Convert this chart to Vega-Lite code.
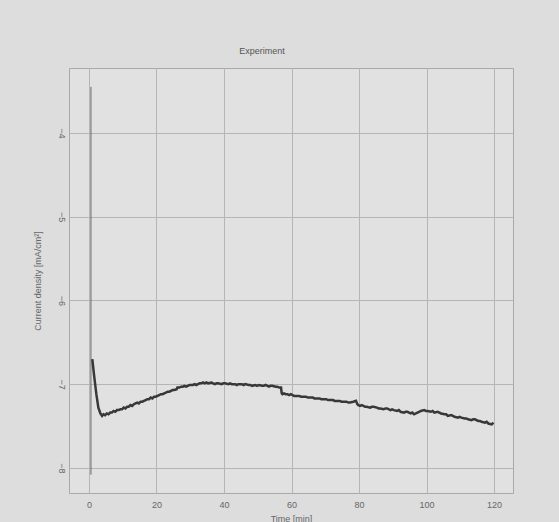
{
  "$schema": "https://vega.github.io/schema/vega-lite/v6.json",
  "autosize": {"type": "none"},
  "width": 444,
  "height": 425,
  "padding": {"left": 69, "top": 68, "right": 46, "bottom": 29},
  "background": "#dddddd",
  "config": {
    "font": "Liberation Sans",
    "view": {"fill": "#e1e1e1", "stroke": "#a9a9a9", "strokeWidth": 1},
    "axis": {"gridColor": "#b5b5b5", "gridOpacity": 1, "gridWidth": 1, "domain": false, "ticks": false, "labelColor": "#666666", "labelFontSize": 9, "titleColor": "#666666", "titleFontSize": 9, "titleFontWeight": "normal"}
  },
  "title": {"text": "Experiment", "anchor": "middle", "dx": -29, "offset": 12, "fontSize": 9, "fontWeight": "normal", "color": "#555555"},
  "datasets": {
    "spike": [
      {"t": 0.6, "j": -3.45},
      {"t": 0.6, "j": -8.08}
    ],
    "main": [
      {"t": 1.0, "j": -6.70}, {"t": 1.6, "j": -6.92}, {"t": 2.2, "j": -7.12}, {"t": 2.8, "j": -7.28},
      {"t": 3.4, "j": -7.35}, {"t": 3.9, "j": -7.38}, {"t": 4.3, "j": -7.36}, {"t": 4.8, "j": -7.37}, {"t": 5.3, "j": -7.35},
      {"t": 5.8, "j": -7.36}, {"t": 6.3, "j": -7.34}, {"t": 6.8, "j": -7.34}, {"t": 7.3, "j": -7.32}, {"t": 7.8, "j": -7.33}, {"t": 8.3, "j": -7.31}, {"t": 8.8, "j": -7.31}, {"t": 9.3, "j": -7.30},
      {"t": 9.8, "j": -7.30}, {"t": 10.3, "j": -7.28}, {"t": 10.8, "j": -7.29}, {"t": 11.3, "j": -7.27}, {"t": 11.8, "j": -7.27}, {"t": 12.3, "j": -7.25}, {"t": 12.8, "j": -7.26}, {"t": 13.3, "j": -7.24},
      {"t": 13.8, "j": -7.23}, {"t": 14.3, "j": -7.22}, {"t": 14.8, "j": -7.23}, {"t": 15.3, "j": -7.21}, {"t": 15.8, "j": -7.21}, {"t": 16.3, "j": -7.20}, {"t": 16.8, "j": -7.19}, {"t": 17.3, "j": -7.18},
      {"t": 17.8, "j": -7.18}, {"t": 18.3, "j": -7.16}, {"t": 18.8, "j": -7.17}, {"t": 19.3, "j": -7.15}, {"t": 19.8, "j": -7.15}, {"t": 20.3, "j": -7.14}, {"t": 20.8, "j": -7.13}, {"t": 21.3, "j": -7.12},
      {"t": 21.8, "j": -7.12}, {"t": 22.3, "j": -7.11}, {"t": 22.8, "j": -7.10}, {"t": 23.3, "j": -7.09}, {"t": 23.8, "j": -7.09}, {"t": 24.3, "j": -7.08}, {"t": 24.8, "j": -7.07}, {"t": 25.3, "j": -7.07},
      {"t": 26.0, "j": -7.06}, {"t": 26.2, "j": -7.04}, {"t": 26.8, "j": -7.04}, {"t": 27.3, "j": -7.03}, {"t": 27.8, "j": -7.03}, {"t": 28.3, "j": -7.02}, {"t": 28.8, "j": -7.03},
      {"t": 29.3, "j": -7.02}, {"t": 29.8, "j": -7.01}, {"t": 30.3, "j": -7.01}, {"t": 30.8, "j": -7.01}, {"t": 31.3, "j": -7.00}, {"t": 31.8, "j": -7.01}, {"t": 32.3, "j": -7.00},
      {"t": 32.8, "j": -6.99}, {"t": 33.3, "j": -6.99}, {"t": 33.8, "j": -6.98}, {"t": 34.3, "j": -6.99}, {"t": 34.8, "j": -6.98}, {"t": 35.3, "j": -6.99}, {"t": 36.3, "j": -6.98},
      {"t": 36.8, "j": -6.99}, {"t": 37.3, "j": -7.00}, {"t": 37.8, "j": -6.99}, {"t": 38.3, "j": -6.99}, {"t": 39.3, "j": -7.00}, {"t": 39.8, "j": -6.99}, {"t": 40.3, "j": -6.99},
      {"t": 41.3, "j": -7.00}, {"t": 41.8, "j": -6.99}, {"t": 42.3, "j": -7.00}, {"t": 43.3, "j": -7.00}, {"t": 43.8, "j": -7.01}, {"t": 44.3, "j": -7.00},
      {"t": 45.3, "j": -7.00}, {"t": 45.8, "j": -7.01}, {"t": 46.3, "j": -7.00}, {"t": 47.3, "j": -7.01}, {"t": 47.8, "j": -7.01}, {"t": 48.3, "j": -7.02},
      {"t": 49.3, "j": -7.01}, {"t": 49.8, "j": -7.02}, {"t": 50.3, "j": -7.01}, {"t": 51.3, "j": -7.02}, {"t": 51.8, "j": -7.02}, {"t": 52.3, "j": -7.01},
      {"t": 53.3, "j": -7.03}, {"t": 53.8, "j": -7.02}, {"t": 54.3, "j": -7.02}, {"t": 55.3, "j": -7.03}, {"t": 55.8, "j": -7.03}, {"t": 56.3, "j": -7.04},
      {"t": 56.9, "j": -7.04}, {"t": 57.1, "j": -7.11}, {"t": 57.3, "j": -7.12}, {"t": 57.8, "j": -7.11}, {"t": 58.3, "j": -7.12},
      {"t": 58.8, "j": -7.12}, {"t": 59.3, "j": -7.13}, {"t": 59.8, "j": -7.12}, {"t": 60.3, "j": -7.13}, {"t": 60.8, "j": -7.14}, {"t": 61.3, "j": -7.14}, {"t": 62.3, "j": -7.14},
      {"t": 62.8, "j": -7.15}, {"t": 63.3, "j": -7.15}, {"t": 64.3, "j": -7.15}, {"t": 64.8, "j": -7.16}, {"t": 65.3, "j": -7.16}, {"t": 66.3, "j": -7.16},
      {"t": 66.8, "j": -7.17}, {"t": 67.3, "j": -7.17}, {"t": 68.3, "j": -7.17}, {"t": 68.8, "j": -7.18}, {"t": 69.3, "j": -7.18}, {"t": 70.3, "j": -7.18},
      {"t": 70.8, "j": -7.19}, {"t": 71.3, "j": -7.19}, {"t": 72.3, "j": -7.19}, {"t": 72.8, "j": -7.20}, {"t": 73.3, "j": -7.20}, {"t": 74.3, "j": -7.20},
      {"t": 74.8, "j": -7.21}, {"t": 75.3, "j": -7.21}, {"t": 76.3, "j": -7.21}, {"t": 76.8, "j": -7.22}, {"t": 77.3, "j": -7.22}, {"t": 78.3, "j": -7.21},
      {"t": 79.1, "j": -7.20}, {"t": 79.5, "j": -7.24}, {"t": 79.8, "j": -7.25}, {"t": 80.3, "j": -7.26}, {"t": 80.8, "j": -7.25}, {"t": 81.3, "j": -7.26},
      {"t": 81.8, "j": -7.27}, {"t": 82.3, "j": -7.27}, {"t": 83.3, "j": -7.28}, {"t": 83.8, "j": -7.27}, {"t": 84.3, "j": -7.27}, {"t": 85.3, "j": -7.28},
      {"t": 85.8, "j": -7.29}, {"t": 86.3, "j": -7.29}, {"t": 87.3, "j": -7.30}, {"t": 87.8, "j": -7.29}, {"t": 88.3, "j": -7.29}, {"t": 89.3, "j": -7.31},
      {"t": 89.8, "j": -7.30}, {"t": 90.3, "j": -7.31}, {"t": 91.3, "j": -7.32}, {"t": 91.8, "j": -7.31}, {"t": 92.3, "j": -7.33}, {"t": 93.3, "j": -7.34},
      {"t": 93.8, "j": -7.33}, {"t": 94.3, "j": -7.33}, {"t": 95.3, "j": -7.35}, {"t": 95.8, "j": -7.34}, {"t": 96.3, "j": -7.36}, {"t": 97.3, "j": -7.34},
      {"t": 97.8, "j": -7.33}, {"t": 98.3, "j": -7.32}, {"t": 99.3, "j": -7.31}, {"t": 99.8, "j": -7.32}, {"t": 100.3, "j": -7.32}, {"t": 101.3, "j": -7.33},
      {"t": 101.8, "j": -7.32}, {"t": 102.3, "j": -7.34}, {"t": 103.3, "j": -7.33}, {"t": 103.8, "j": -7.34}, {"t": 104.3, "j": -7.35}, {"t": 105.3, "j": -7.36},
      {"t": 105.8, "j": -7.36}, {"t": 106.3, "j": -7.38}, {"t": 107.3, "j": -7.37}, {"t": 107.8, "j": -7.38}, {"t": 108.3, "j": -7.39}, {"t": 109.3, "j": -7.40},
      {"t": 109.8, "j": -7.39}, {"t": 110.3, "j": -7.40}, {"t": 111.3, "j": -7.41}, {"t": 111.8, "j": -7.41}, {"t": 112.3, "j": -7.42}, {"t": 113.3, "j": -7.43},
      {"t": 113.8, "j": -7.42}, {"t": 114.3, "j": -7.42}, {"t": 115.3, "j": -7.44}, {"t": 115.8, "j": -7.44}, {"t": 116.3, "j": -7.45}, {"t": 117.3, "j": -7.46},
      {"t": 117.8, "j": -7.45}, {"t": 118.3, "j": -7.47}, {"t": 119.3, "j": -7.48}, {"t": 119.8, "j": -7.46}
    ]
  },
  "layer": [
    {
      "data": {"name": "spike"},
      "mark": {"type": "line", "color": "#666666", "strokeWidth": 1},
      "encoding": {
        "x": {"field": "t", "type": "quantitative", "scale": {"domain": [-5.9, 125.6], "nice": false, "zero": false},
              "axis": {"values": [0, 20, 40, 60, 80, 100, 120], "title": "Time [min]", "labelPadding": 7, "titlePadding": 5}},
        "y": {"field": "j", "type": "quantitative", "scale": {"domain": [-8.3, -3.224], "nice": false, "zero": false},
              "axis": {"values": [-8, -7, -6, -5, -4], "format": "d", "title": "Current density [mA/cm²]", "labelAngle": 90, "labelAlign": "center", "labelBaseline": "top", "labelPadding": 4, "titlePadding": 14}}
      }
    },
    {
      "data": {"name": "main"},
      "mark": {"type": "line", "color": "#383838", "strokeWidth": 2.5},
      "encoding": {
        "x": {"field": "t", "type": "quantitative"},
        "y": {"field": "j", "type": "quantitative"}
      }
    }
  ]
}
